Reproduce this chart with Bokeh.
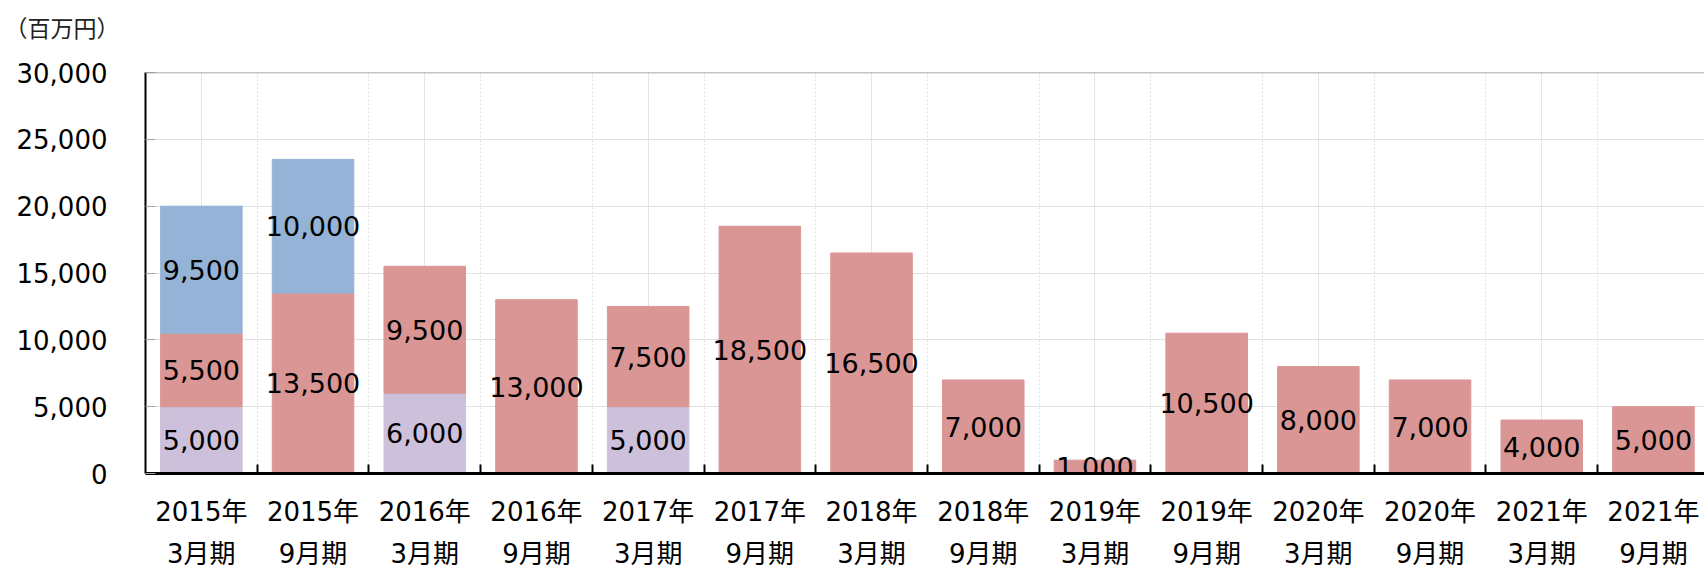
from bokeh.plotting import figure
from bokeh.models import (Range1d, LinearAxis, FixedTicker, Grid, Span, Title,
                          NumeralTickFormatter, ColumnDataSource)
from bokeh.core.properties import value
from bokeh.embed import file_html
from bokeh.resources import INLINE

# ---- data ----
years = ["2015年", "2015年", "2016年", "2016年", "2017年", "2017年", "2018年",
         "2018年", "2019年", "2019年", "2020年", "2020年", "2021年", "2021年"]
months = ["3月期", "9月期", "3月期", "9月期", "3月期", "9月期", "3月期",
          "9月期", "3月期", "9月期", "3月期", "9月期", "3月期", "9月期"]
purple_vals = [5000, 0, 6000, 0, 5000, 0, 0, 0, 0, 0, 0, 0, 0, 0]
red_vals = [5500, 13500, 9500, 13000, 7500, 18500, 16500, 7000, 1000, 10500,
            8000, 7000, 4000, 5000]
blue_vals = [9500, 10000, 0, 0, 0, 0, 0, 0, 0, 0, 0, 0, 0, 0]
y_ticks = [0, 5000, 10000, 15000, 20000, 25000, 30000]
unit_label = "（百万円）"

FONT = "'DejaVu Sans', 'Noto Sans CJK JP'"
C_PURPLE = "#CCC0DA"
C_RED = "#DA9694"
C_BLUE = "#95B3D7"

n = len(years)
xs = list(range(n))
Y_MAX = y_ticks[-1]

p = figure(width=1704, height=571,
           x_range=Range1d(-0.5, 13.457), y_range=Range1d(0, Y_MAX),
           output_backend="svg", toolbar_location=None,
           x_axis_location=None, y_axis_location=None,
           min_border_left=145, min_border_right=0,
           min_border_top=72, min_border_bottom=98)
p.outline_line_color = None
p.background_fill_color = "white"
p.border_fill_color = "white"

# stacked bars (only non-empty segments)
bottoms = [0] * n
labels_x, labels_y, labels_t = [], [], []
for vals, col in [(purple_vals, C_PURPLE), (red_vals, C_RED), (blue_vals, C_BLUE)]:
    seg = dict(x=[], bottom=[], top=[])
    for i, v in enumerate(vals):
        if v > 0:
            seg["x"].append(i)
            seg["bottom"].append(bottoms[i])
            seg["top"].append(bottoms[i] + v)
            labels_x.append(i)
            labels_y.append(bottoms[i] + v / 2)
            labels_t.append(f"{v:,}")
    p.vbar(x="x", bottom="bottom", top="top", width=0.73,
           source=ColumnDataSource(seg),
           fill_color=col, line_color=col, line_width=1)
    bottoms = [b + v for b, v in zip(bottoms, vals)]

p.text(x=labels_x, y=labels_y, text=labels_t, text_align="center",
       text_baseline="middle", text_font=value(FONT), text_font_size="27px",
       text_color="black")

# x axis: year labels at centres, small ticks at category boundaries
boundaries = [i + 0.5 for i in range(n)]
xticker = FixedTicker(ticks=xs, minor_ticks=boundaries)
xaxis = LinearAxis(ticker=xticker)
xaxis.major_label_overrides = {i: years[i] for i in xs}
xaxis.major_label_text_font = FONT
xaxis.major_label_text_font_size = "26px"
xaxis.major_label_text_color = "black"
xaxis.major_label_standoff = 23
xaxis.major_tick_line_color = None
xaxis.major_tick_in = 0
xaxis.major_tick_out = 0
xaxis.minor_tick_in = 9
xaxis.minor_tick_out = 0
xaxis.minor_tick_line_color = "black"
xaxis.minor_tick_line_width = 2
xaxis.axis_line_color = "black"
xaxis.axis_line_width = 3
p.add_layout(xaxis, "below")

# second row of x labels (period)
xaxis2 = LinearAxis(ticker=FixedTicker(ticks=xs))
xaxis2.major_label_overrides = {i: months[i] for i in xs}
xaxis2.major_label_text_font = FONT
xaxis2.major_label_text_font_size = "26px"
xaxis2.major_label_text_color = "black"
xaxis2.major_label_standoff = 9
xaxis2.major_tick_line_color = None
xaxis2.major_tick_in = 0
xaxis2.major_tick_out = 0
xaxis2.minor_tick_line_color = None
xaxis2.axis_line_color = None
p.add_layout(xaxis2, "below")

# y axis
yaxis = LinearAxis(ticker=FixedTicker(ticks=y_ticks),
                   formatter=NumeralTickFormatter(format="0,0"))
yaxis.major_label_text_font = FONT
yaxis.major_label_text_font_size = "26px"
yaxis.major_label_text_color = "black"
yaxis.major_label_standoff = 38
yaxis.major_tick_in = 10
yaxis.major_tick_out = 0
yaxis.major_tick_line_color = "#A6A6A6"
yaxis.minor_tick_line_color = None
yaxis.axis_line_color = "black"
yaxis.axis_line_width = 2
p.add_layout(yaxis, "left")

# grids
xgrid = Grid(dimension=0, ticker=xticker, grid_line_color=None,
             minor_grid_line_color="#DDDDDD", minor_grid_line_dash="2 2",
             minor_grid_line_width=1, level="underlay")
ygrid = Grid(dimension=1, ticker=FixedTicker(ticks=y_ticks),
             grid_line_color="#DDDDDD", grid_line_dash="2 2",
             grid_line_width=1, level="underlay")
p.add_layout(xgrid)
p.add_layout(ygrid)

# top border line of plot area
p.add_layout(Span(location=Y_MAX, dimension="width",
                  line_color="#8C8C8C", line_width=1.5))

# unit label above the y axis (a blank second line lifts it towards the top)
p.add_layout(Title(text=unit_label + "\n ", align="left", offset=-141,
                   standoff=26, vertical_align="top", text_line_height=0.6,
                   text_font=FONT, text_font_size="23px",
                   text_font_style="normal", text_color="#222222"), "above")

open("out.html", "w").write(file_html(p, INLINE))
